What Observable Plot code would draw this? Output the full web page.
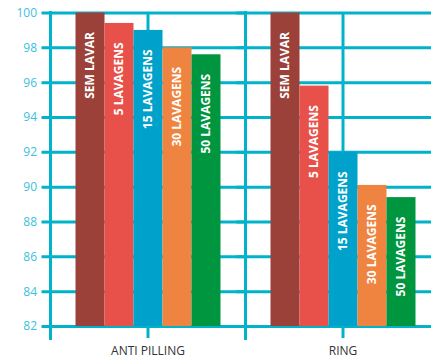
<!DOCTYPE html>
<html><head><meta charset="utf-8">
<script src="https://cdn.jsdelivr.net/npm/d3@7"></script>
<script src="https://cdn.jsdelivr.net/npm/@observablehq/plot@0.6"></script>
<style>body{margin:0;background:#fff;overflow:hidden} #chart svg{overflow:visible;display:block}</style>
</head><body><div id="chart"></div>
<script>
const groups = ["ANTI PILLING", "RING"];
const series = ["SEM LAVAR", "5 LAVAGENS", "15 LAVAGENS", "30 LAVAGENS", "50 LAVAGENS"];
const antiPilling = [100, 99.4, 99.0, 98.0, 97.6];
const ring = [100, 95.8, 92.0, 90.1, 89.4];
const colors = ["#9c4139", "#e8514a", "#00a2cb", "#ef8440", "#00953f"];
const yTicks = [82, 84, 86, 88, 90, 92, 94, 96, 98, 100];
const baseline = 82;

const gridColor = "#00b2ca";
const labelColor = "#3cbfdc";

const data = [];
[antiPilling, ring].forEach((vals, gi) => {
  vals.forEach((v, si) => data.push({group: groups[gi], series: series[si], value: v}));
});

const chart = Plot.plot({
  width: 431,
  height: 362,
  marginLeft: 49.5,
  marginRight: -8.5,
  marginTop: 12,
  marginBottom: 24,
  style: {fontFamily: "'Open Sans', sans-serif", background: "#fff"},
  fx: {domain: groups, paddingInner: 0, paddingOuter: 0, axis: null, label: null},
  x: {domain: series, paddingInner: 0, paddingOuter: 0.833, axis: null},
  y: {domain: [82, 100], range: [326, 12.5], axis: null},
  color: {domain: series, range: colors},
  marks: [
    Plot.ruleY(yTicks, {stroke: gridColor, strokeWidth: 3, insetLeft: -8.5}),
    Plot.frame({anchor: "left", stroke: gridColor, strokeWidth: 3}),
    Plot.ruleX([0], {x: null, stroke: gridColor, strokeWidth: 3}),
    Plot.barY(data, {fx: "group", x: "series", y1: baseline, y2: "value", fill: "series"}),
    Plot.text(data, {fx: "group", x: "series", y: "value", text: "series", rotate: -90, textAnchor: "end", dy: 19, fill: "white", fontWeight: "bold", fontSize: 12}),
    Plot.axisFx({anchor: "bottom", tickSize: 0, tickPadding: 8, fontSize: 12, color: "#333", label: null}),
    Plot.axisY(yTicks, {anchor: "left", tickSize: 0, tickPadding: 13.5, fontSize: 12, color: labelColor, label: null})
  ]
});
document.getElementById("chart").appendChild(chart);
</script>
</body></html>
